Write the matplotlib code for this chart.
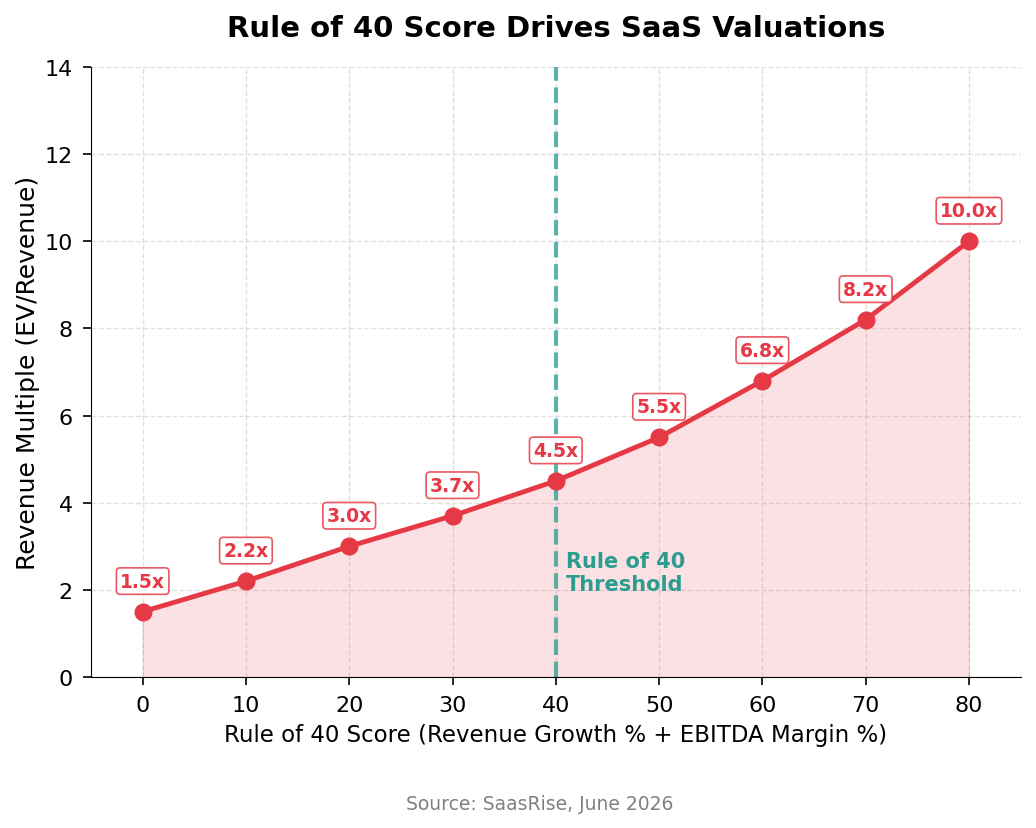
import matplotlib
matplotlib.use("Agg")
import matplotlib.pyplot as plt

scores = [0, 10, 20, 30, 40, 50, 60, 70, 80]
multiples = [1.5, 2.2, 3.0, 3.7, 4.5, 5.5, 6.8, 8.2, 10.0]
labels = ["1.5x", "2.2x", "3.0x", "3.7x", "4.5x", "5.5x", "6.8x", "8.2x", "10.0x"]
threshold = 40

red = "#E63946"
teal = "#2A9D8F"

fig = plt.figure(figsize=(10.36, 8.29), dpi=100)
ax = fig.add_axes([91/1036, 1-678/829, (1020.6-91)/1036, (678-68)/829])

ax.fill_between(scores, multiples, 0, color=red, alpha=0.15, zorder=1)
ax.plot(scores, multiples, color=red, lw=3.5, marker="o", markersize=12, zorder=3)
ax.axvline(threshold, color=teal, ls="--", lw=3, alpha=0.75, zorder=2)
ax.text(threshold + 1, 2.4, "Rule of 40\nThreshold", color=teal, fontsize=15,
        fontweight="bold", va="center", ha="left")

for x, y, lab in zip(scores, multiples, labels):
    ax.annotate(lab, (x, y), xytext=(0, 22), textcoords="offset points",
                ha="center", va="center", fontsize=13.5, fontweight="bold", color=red,
                bbox=dict(boxstyle="round,pad=0.2", fc="white", ec=red, alpha=0.85, lw=1.2),
                zorder=4)

ax.set_xlim(-5, 85)
ax.set_ylim(0, 14)
ax.set_xticks(scores)
ax.set_yticks(range(0, 15, 2))
ax.tick_params(labelsize=16, length=6, width=1.2, pad=7)
ax.grid(True, ls="--", color="#cccccc", alpha=0.6, lw=1)
ax.set_axisbelow(True)
for s in ["top", "right"]:
    ax.spines[s].set_visible(False)

ax.set_xlabel("Rule of 40 Score (Revenue Growth % + EBITDA Margin %)", fontsize=16.5, labelpad=6)
ax.set_ylabel("Revenue Multiple (EV/Revenue)", fontsize=18, labelpad=3)
ax.set_title("Rule of 40 Score Drives SaaS Valuations", fontsize=21, fontweight="bold", pad=22)

fig.text(540/1036, 1-805/829, "Source: SaasRise, June 2026", ha="center", va="center",
         fontsize=13.5, color="gray")

fig.savefig("out.png", dpi=100)
